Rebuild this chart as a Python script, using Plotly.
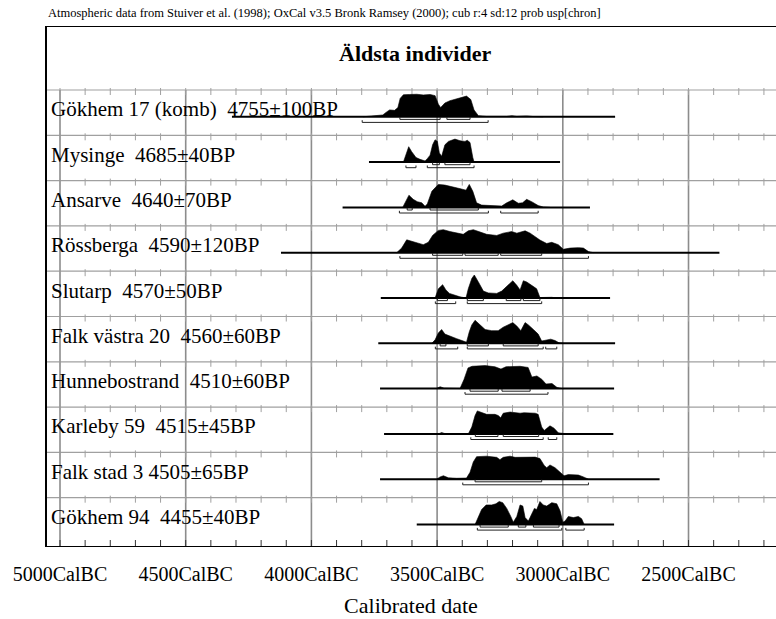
import plotly.graph_objects as go

# ---------------- data (cal BC years, relative probability) ----------------
names = ["Gökhem 17 (komb)", "Mysinge", "Ansarve", "Rössberga", "Slutarp",
         "Falk västra 20", "Hunnebostrand", "Karleby 59", "Falk stad 3", "Gökhem 94"]
bp_dates = ["4755±100BP", "4685±40BP", "4640±70BP", "4590±120BP", "4570±50BP",
            "4560±60BP", "4510±60BP", "4515±45BP", "4505±65BP", "4455±40BP"]
gaps = ["\u00a0\u00a0"] * 8 + ["\u00a0"] + ["\u00a0\u00a0"]

# extent of each calibrated curve (start, end) in cal BC
extent = [(4316, 2792), (3771, 3011), (3876, 2892), (4121, 2377), (3724, 2812),
          (3734, 2792), (3727, 2796), (3711, 2799), (3727, 2615), (3581, 2796)]

gokhem17_years = [3795, 3756, 3716, 3702, 3689, 3669, 3656, 3647, 3634, 3610, 3581, 3555, 3528, 3508,
                  3495, 3486, 3469, 3449, 3422, 3396, 3383, 3366, 3353, 3336, 3303, 3223, 3203, 3183,
                  3144, 3117, 3078]
gokhem17_prob = [0, .04, .08, .2, .3, .28, .4, .8, .96, .97, .98, .95, .97, .92,
                 .55, .4, .6, .7, .78, .85, .9, .75, .3, .05, .02, .02, .05, .02,
                 .04, .01, 0]

mysinge_years = [3634, 3624, 3613, 3601, 3584, 3568, 3548, 3539, 3528, 3518, 3508, 3499, 3491, 3482,
                 3469, 3455, 3429, 3409, 3389, 3380, 3369, 3358, 3353]
mysinge_prob = [0, .3, .67, .45, .2, .12, .05, .15, .3, .75, .97, .9, .4, .25,
                .75, .9, 1.0, .93, .9, .95, .85, .2, 0]

ansarve_years = [3637, 3624, 3612, 3595, 3579, 3561, 3548, 3539, 3521, 3508, 3495, 3469, 3436, 3403,
                 3385, 3372, 3358, 3343, 3323, 3263, 3243, 3223, 3199, 3177, 3160, 3144, 3124, 3098,
                 3078, 3051]
ansarve_prob = [0, .3, .53, .35, .25, .2, .05, .15, .7, .85, 1.0, .97, .9, .8,
                .75, 1.0, .7, .2, .1, .08, .06, .2, .33, .18, .2, .35, .25, .08,
                .02, 0]

rossberga_years = [3661, 3641, 3621, 3601, 3581, 3555, 3535, 3518, 3495, 3475, 3449, 3422, 3396, 3376,
                   3356, 3329, 3303, 3263, 3237, 3203, 3183, 3150, 3130, 3091, 3064, 3044, 3018, 2998,
                   2971, 2938, 2918, 2898, 2878]
rossberga_prob = [0, .2, .56, .5, .42, .35, .45, .75, .97, 1.0, .92, .85, .8, .95,
                  1.0, .9, .8, .75, .85, .92, .85, .95, .85, .55, .4, .45, .35, .15,
                  .2, .22, .2, .05, 0]

slutarp_years = [3508, 3495, 3478, 3465, 3451, 3429, 3409, 3385, 3376, 3362, 3352, 3336, 3316, 3296,
                 3263, 3243, 3223, 3199, 3183, 3170, 3157, 3144, 3124, 3104, 3091, 3044, 3024]
slutarp_prob = [0, .4, .58, .35, .2, .12, .05, 0, .4, .85, 1.0, .7, .3, .22,
                .2, .3, .5, .75, .55, .35, .75, .7, .55, .4, .02, .03, 0]

falkvastra_years = [3521, 3508, 3495, 3482, 3469, 3449, 3422, 3396, 3383, 3372, 3362, 3349, 3329, 3309,
                    3283, 3257, 3237, 3217, 3199, 3183, 3167, 3150, 3137, 3117, 3098, 3084, 3064, 3048,
                    3031, 3015, 2998]
falkvastra_prob = [0, .15, .45, .6, .4, .3, .2, .1, .05, .5, .8, 1.0, .8, .6,
                   .55, .55, .7, .8, .9, .75, .55, .9, .8, .6, .4, .1, .15, .18,
                   .12, .02, 0]

hunnebo_years = [3504, 3488, 3472, 3409, 3393, 3377, 3361, 3309, 3270, 3246, 3226, 3170, 3138, 3123,
                 3103, 3083, 3067, 3043, 3023, 3004]
hunnebo_prob = [0, .08, .02, 0, .4, .9, .97, 1.0, .95, .85, .95, .97, .92, .5,
                .55, .4, .2, .22, .05, 0]

karleby_years = [3495, 3482, 3465, 3376, 3362, 3349, 3340, 3323, 3303, 3270, 3257, 3247, 3237, 3210,
                 3190, 3170, 3154, 3137, 3110, 3098, 3084, 3074, 3064, 3051, 3035, 3018, 2998, 2931,
                 2918]
karleby_prob = [0, .06, 0, 0, .3, .8, 1.0, .92, .85, .85, .8, .7, .9, .95,
                .93, .9, .92, .9, .9, .85, .3, .15, .25, .35, .25, .05, .02, .02,
                0]

falkstad_years = [3502, 3488, 3475, 3455, 3422, 3383, 3369, 3356, 3343, 3303, 3263, 3250, 3237, 3210,
                  3190, 3170, 3144, 3110, 3091, 3074, 3064, 3051, 3031, 3011, 2995, 2978, 2958, 2938,
                  2918, 2898]
falkstad_prob = [0, .1, .15, .06, .04, .05, .3, .75, .98, 1.0, .95, .85, .95, 1.0,
                 .95, .95, .97, .96, .9, .6, .5, .62, .5, .3, .15, .2, .2, .18,
                 .1, 0]

gokhem94_years = [3349, 3336, 3323, 3305, 3283, 3266, 3253, 3239, 3223, 3207, 3197, 3183, 3170, 3159,
                  3150, 3137, 3124, 3113, 3104, 3091, 3078, 3064, 3044, 3024, 3011, 3000, 2991, 2978,
                  2958, 2938, 2925, 2915]
gokhem94_prob = [0, .3, .65, .85, .85, .9, 1.0, .95, .7, .35, .1, .35, .85, .8,
                 .3, .15, .45, .7, .65, 1.0, .85, .8, .95, .9, .6, .1, .15, .35,
                 .3, .35, .25, 0]

dens_years = [gokhem17_years, mysinge_years, ansarve_years, rossberga_years, slutarp_years,
              falkvastra_years, hunnebo_years, karleby_years, falkstad_years, gokhem94_years]
dens_prob = [gokhem17_prob, mysinge_prob, ansarve_prob, rossberga_prob, slutarp_prob,
             falkvastra_prob, hunnebo_prob, karleby_prob, falkstad_prob, gokhem94_prob]

# 68.2% and 95.4% ranges
r68 = [[(3648, 3488), (3461, 3369)],
       [(3518, 3491), (3469, 3369)],
       [(3619, 3599), (3528, 3336)],
       [(3518, 3398), (3389, 3257), (3247, 3084)],
       [(3499, 3459), (3380, 3316), (3225, 3167), (3157, 3091)],
       [(3488, 3465), (3380, 3296), (3237, 3098)],
       [(3369, 3257), (3242, 3130)],
       [(3348, 3258), (3237, 3096)],
       [(3349, 3084)],
       [(3329, 3217), (3177, 3147), (3117, 3015)]]
r95 = [[(3798, 3297)],
       [(3624, 3584), (3539, 3353)],
       [(3650, 3296), (3247, 3098)],
       [(3648, 2898)],
       [(3507, 3426), (3380, 3084)],
       [(3507, 3418), (3380, 3078), (3068, 3024)],
       [(3389, 3059)],
       [(3366, 3078), (3058, 3024)],
       [(3398, 2898)],
       [(3340, 3004), (2988, 2915)]]

major_ticks = [5000, 4500, 4000, 3500, 3000, 2500]
major_labels = ["5000CalBC", "4500CalBC", "4000CalBC", "3500CalBC", "3000CalBC", "2500CalBC"]
minor_ticks = list(range(5000, 2100, -100))

# ---------------- layout constants (pixel units on y) ----------------
W, H = 776, 619
LEFT, TOP, BOTTOM = 46, 26, 547
X_LEFT, X_RIGHT = 5055.7, 2152.0
ROW0, STEP, GRID0, PEAK = 116.8, 45.3, 90.0, 23.0
FONT = "Liberation Serif, Times New Roman, serif"
GRID_C = "#a0a0a0"

fig = go.Figure()

# horizontal grid lines and their ticks
gx, gy, tx, ty = [], [], [], []
for k in range(10):
    yg = GRID0 + STEP * k
    gx += [X_LEFT, X_RIGHT, None]
    gy += [yg, yg, None]
    for t in minor_ticks:
        tx += [t, t, None]
        ty += [yg - 2, yg + 5, None]
fig.add_trace(go.Scatter(x=gx, y=gy, mode="lines", line=dict(color=GRID_C, width=1.2),
                         hoverinfo="skip", showlegend=False))
# vertical grid lines
vx, vy = [], []
for t in major_ticks:
    vx += [t, t, None]
    vy += [GRID0, BOTTOM, None]
fig.add_trace(go.Scatter(x=vx, y=vy, mode="lines", line=dict(color="#8c8c8c", width=1.6),
                         hoverinfo="skip", showlegend=False))
fig.add_trace(go.Scatter(x=tx, y=ty, mode="lines", line=dict(color=GRID_C, width=1),
                         hoverinfo="skip", showlegend=False))
# bottom axis ticks
bx, by = [], []
for t in minor_ticks:
    bx += [t, t, None]
    by += [BOTTOM - 7, BOTTOM, None]
fig.add_trace(go.Scatter(x=bx, y=by, mode="lines", line=dict(color="#333", width=1),
                         hoverinfo="skip", showlegend=False))

for k in range(10):
    base = ROW0 + STEP * k
    ys = dens_years[k]
    ps = dens_prob[k]
    px = [ys[0]] + ys + [ys[-1]]
    py = [base] + [base - p * PEAK for p in ps] + [base]
    fig.add_trace(go.Scatter(x=px, y=py, mode="lines", fill="toself", fillcolor="black",
                             line=dict(color="black", width=0.6), hoverinfo="skip",
                             showlegend=False))
    # baseline
    fig.add_trace(go.Scatter(x=list(extent[k]), y=[base, base], mode="lines",
                             line=dict(color="black", width=2), hoverinfo="skip",
                             showlegend=False))
    # ranges
    rx, ry = [], []
    for (a, b), off in [(r, 2.6) for r in r68[k]] + [(r, 5.6) for r in r95[k]]:
        yb = base + off
        rx += [a, a, b, b, None]
        ry += [yb - 2.2, yb, yb, yb - 2.2, None]
    fig.add_trace(go.Scatter(x=rx, y=ry, mode="lines", line=dict(color="#222", width=1),
                             hoverinfo="skip", showlegend=False))
    fig.add_annotation(x=3 / 730, xref="paper", xanchor="left", y=base - 7.5, yref="y",
                       yanchor="middle", text=names[k] + gaps[k] + bp_dates[k], showarrow=False,
                       font=dict(family=FONT, size=21, color="black"))

# frame (left, top, bottom; right side runs off the page)
for x0, y0, x1, y1 in [(0, TOP, 0, BOTTOM), (0, TOP, 1.0, TOP), (0, BOTTOM, 1.0, BOTTOM)]:
    fig.add_shape(type="line", xref="paper", yref="y", x0=x0, y0=y0, x1=x1, y1=y1,
                  line=dict(color="black", width=2))

fig.add_annotation(x=(415 - LEFT) / 730, xref="paper", y=(BOTTOM - 53) / (BOTTOM - TOP),
                   yref="paper", text="<b>Äldsta individer</b>",
                   showarrow=False, xanchor="center", yanchor="middle",
                   font=dict(family=FONT, size=22, color="black"))
fig.add_annotation(x=0, xref="paper", xanchor="left", y=(BOTTOM - 13) / (BOTTOM - TOP),
                   yref="paper", yanchor="middle",
                   text="Atmospheric data from Stuiver et al. (1998); OxCal v3.5 Bronk Ramsey (2000); cub r:4 sd:12 prob usp[chron]",
                   showarrow=False, font=dict(family=FONT, size=12.5, color="black"))

fig.update_layout(
    width=W, height=H, margin=dict(l=LEFT, r=0, t=TOP, b=H - BOTTOM),
    paper_bgcolor="white", plot_bgcolor="white",
    xaxis=dict(range=[X_LEFT, X_RIGHT], tickvals=major_ticks, ticktext=major_labels,
               showgrid=False, zeroline=False, showline=False, ticks="",
               ticklabelstandoff=13,
               tickfont=dict(family=FONT, size=20, color="black"),
               title=dict(text="Calibrated date", font=dict(family=FONT, size=22, color="black"),
                          standoff=13)),
    yaxis=dict(range=[BOTTOM, TOP], visible=False),
)
fig.write_html("out.html")
